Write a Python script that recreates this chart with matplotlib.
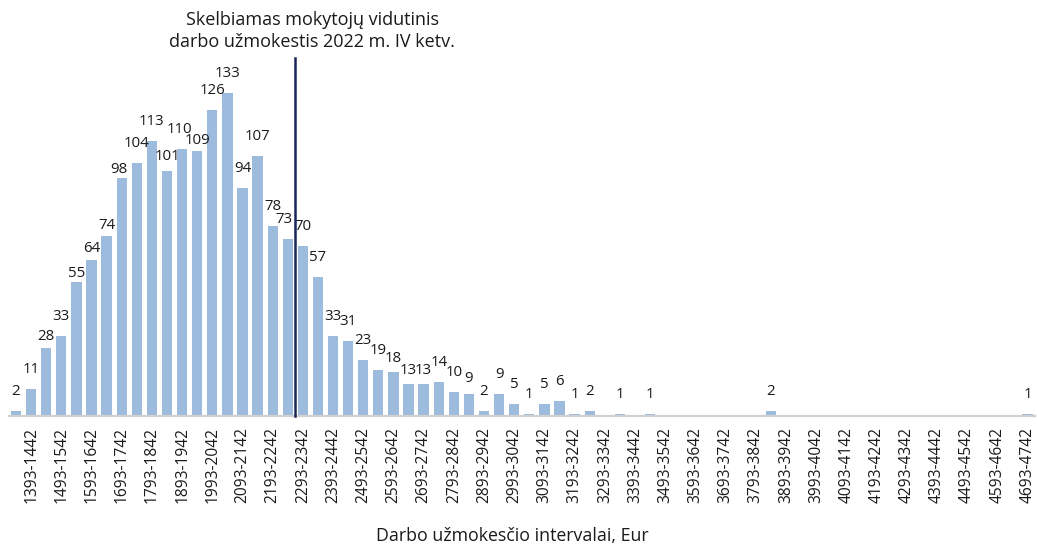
import matplotlib
matplotlib.use("Agg")
import matplotlib.pyplot as plt
import numpy as np

plt.rcParams['font.family'] = ['Open Sans', 'DejaVu Sans']

# interval lower bounds (50 EUR bins), first bin unlabeled
starts = list(range(1343, 4694, 50))
labels = [f"{s}-{s+49}" for s in starts]
values = [2, 11, 28, 33, 55, 64, 74, 98, 104, 113, 101, 110, 109, 126, 133, 94,
          107, 78, 73, 70, 57, 33, 31, 23, 19, 18, 13, 13, 14, 10, 9, 2, 9, 5,
          1, 5, 6, 1, 2, 0, 1, 0, 1, 0, 0, 0, 0, 0, 0, 0, 2, 0, 0, 0, 0, 0, 0,
          0, 0, 0, 0, 0, 0, 0, 0, 0, 0, 1]
avg_label = "Skelbiamas mokytojų vidutinis\ndarbo užmokestis 2022 m. IV ketv."
avg_position = 18.5  # boundary between 2243-2292 and 2293-2342 bins
xlabel = "Darbo užmokesčio intervalai, Eur"

# label placement tweaks (pixels above bar top), style only
default_gap = 16
gap_override = {2: 8, 4: 5, 5: 8, 6: 7, 7: 5, 10: 11, 12: 7, 25: 10, 26: 10,
                27: 10, 30: 12}
dx_override = {7: -3, 11: -3, 18: -4}

W, H = 1037, 547
fig = plt.figure(figsize=(W / 100, H / 100), dpi=100)
ax = fig.add_axes([8.5 / W, 1 - 416 / H, (1035 - 8.5) / W, (416 - 51.5) / H])

x = np.arange(len(values))
ax.bar(x, values, width=0.68, color='#9dbbdc', edgecolor='none', zorder=2)

for xi, v in zip(x, values):
    if v > 0:
        gap = gap_override.get(xi, default_gap) * 0.72
        dx = dx_override.get(xi, 0) * 0.72
        ax.annotate(str(v), (xi, v), xytext=(dx, gap), textcoords='offset points',
                    ha='center', va='baseline', fontsize=10.8, color='#1a1a1a')

ax.set_xlim(-0.5, len(values) - 0.5)
ax.set_ylim(0, 150)
ax.set_xticks(x[1::2])
ax.set_xticklabels(labels[1::2], rotation=90, fontsize=11.2, color='#1a1a1a')
ax.tick_params(axis='x', length=0, pad=8)
ax.set_yticks([])
for s in ['top', 'right', 'left']:
    ax.spines[s].set_visible(False)
ax.spines['bottom'].set_color('#d0d0d0')
ax.spines['bottom'].set_linewidth(1.6)

ax.plot([avg_position, avg_position], [0, 147.5], color='#1b2557', lw=1.8, zorder=3,
        clip_on=False)

fig.text(312 / W, 1 - 31 / H, avg_label, ha='center', va='center', fontsize=13,
         color='#1a1a1a', linespacing=1.25)
fig.text(512 / W, 1 - 536 / H, xlabel, ha='center', va='center', fontsize=12.8,
         color='#1a1a1a')

fig.savefig("out.png", dpi=100)
